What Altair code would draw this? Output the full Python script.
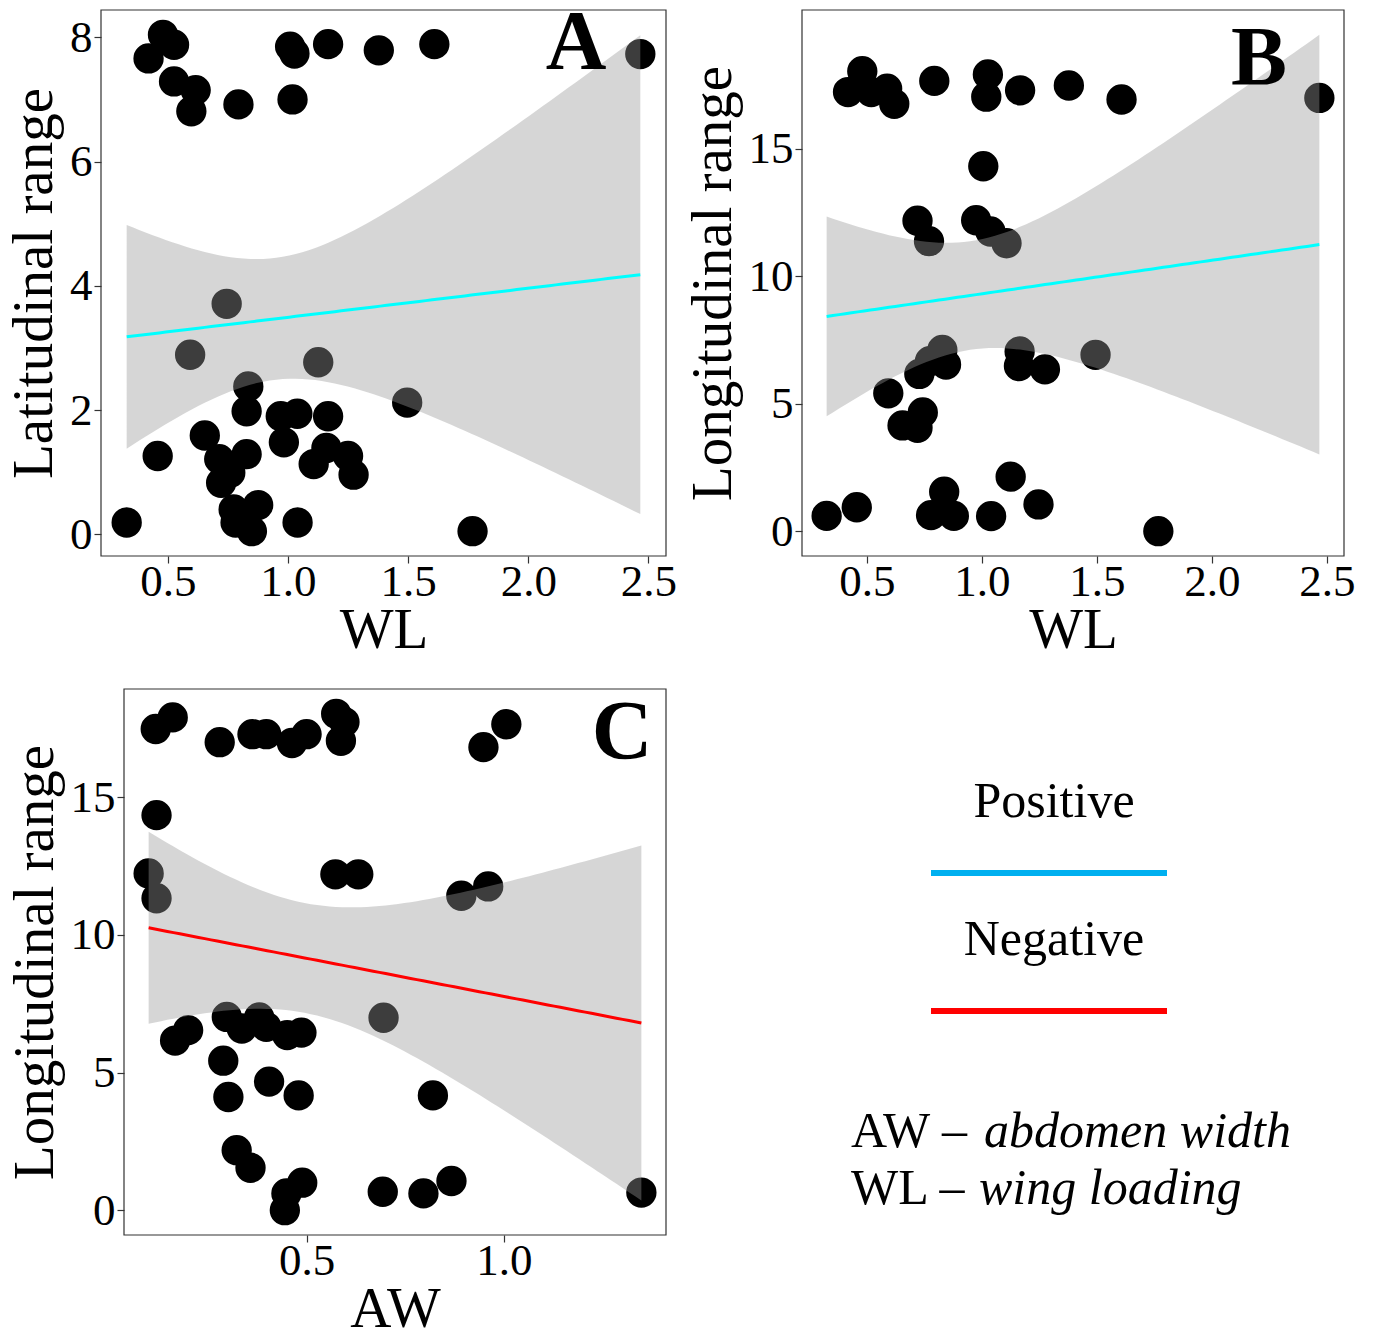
import numpy as np
import pandas as pd
import altair as alt

# ---------------- data ----------------
# Panel A: wing loading (WL) vs latitudinal range
a_wl = [0.48, 0.526, 0.42, 0.526, 0.616, 0.598, 0.794, 1.009, 1.027, 1.167, 1.378, 1.609, 1.019, 2.466,
        0.745, 0.593, 1.126, 0.835, 1.496, 0.828, 0.97, 1.039, 1.167, 0.654, 0.983, 1.16, 1.25, 1.107,
        1.273, 0.458, 0.828, 0.714, 0.76, 0.722, 0.876, 0.774, 0.782, 0.85, 0.329, 1.04, 1.768]
a_lat = [8.04, 7.88, 7.66, 7.29, 7.15, 6.81, 6.92, 7.85, 7.74, 7.89, 7.79, 7.89, 7.0, 7.73,
         3.71, 2.89, 2.77, 2.38, 2.12, 1.98, 1.90, 1.94, 1.90, 1.59, 1.48, 1.39, 1.26, 1.13,
         0.96, 1.26, 1.29, 1.21, 0.99, 0.83, 0.47, 0.40, 0.19, 0.05, 0.19, 0.19, 0.05]

# Panel B: wing loading (WL) vs longitudinal range
b_wl = [0.48, 0.418, 0.519, 0.588, 0.619, 0.793, 1.026, 1.019, 1.166, 1.378, 1.607, 2.467, 1.006,
        0.72, 0.77, 0.975, 1.037, 1.107, 0.828, 0.844, 0.728, 0.774, 1.164, 1.161, 1.274, 1.494,
        0.593, 0.743, 0.655, 0.72, 0.836, 1.125, 0.325, 0.456, 0.779, 0.878, 1.04, 1.246, 1.767]
b_lon = [18.05, 17.23, 17.23, 17.36, 16.77, 17.67, 17.92, 17.05, 17.30, 17.49, 16.94, 17.0, 14.32,
         12.18, 11.38, 12.2, 11.76, 11.3, 7.11, 6.54, 6.17, 6.67, 7.05, 6.48, 6.35, 6.92,
         5.41, 4.66, 4.15, 4.06, 1.55, 2.14, 0.60, 0.94, 0.63, 0.60, 0.59, 1.05, 0.0]

# Panel C: abdomen width (AW) vs longitudinal range
c_aw = [0.161, 0.118, 0.28, 0.363, 0.398, 0.463, 0.5, 0.575, 0.596, 0.587, 1.006, 0.948, 0.12,
        0.1, 0.12, 0.573, 0.631, 0.892, 0.96,
        0.2, 0.167, 0.298, 0.336, 0.38, 0.398, 0.451, 0.487, 0.695, 0.289, 0.405, 0.302, 0.48,
        0.82, 0.323, 0.358, 0.489, 0.449, 0.445, 0.693, 0.796, 0.867, 1.348]
c_lon = [17.9, 17.48, 17.0, 17.29, 17.29, 16.97, 17.29, 18.03, 17.73, 17.05, 17.65, 16.82, 14.35,
         12.23, 11.33, 12.2, 12.2, 11.42, 11.76,
         6.54, 6.16, 7.02, 6.6, 7.0, 6.66, 6.36, 6.45, 6.99, 5.43, 4.67, 4.11, 4.17,
         4.17, 2.18, 1.54, 1.0, 0.61, 0.0, 0.67, 0.61, 1.06, 0.64]

a_xticks = [0.5, 1.0, 1.5, 2.0, 2.5]
a_yticks = [0, 2, 4, 6, 8]
b_yticks = [0, 5, 10, 15]
c_xticks = [0.5, 1.0]
legend_labels = ["Positive", "Negative"]
legend_colors = ["#00B0F0", "#FF0000"]
note_abbr = ["AW \u2013 ", "WL \u2013 "]
note_text = ["abdomen width", "wing loading"]

FONT = "Liberation Serif"
FRAME = "#333333"


def lm_band(x, y, n=80, t=2.02):
    x = np.asarray(x, float)
    y = np.asarray(y, float)
    b1, b0 = np.polyfit(x, y, 1)
    res = y - (b0 + b1 * x)
    k = len(x)
    s = np.sqrt((res ** 2).sum() / (k - 2))
    xm = x.mean()
    sxx = ((x - xm) ** 2).sum()
    g = np.linspace(x.min(), x.max(), n)
    f = b0 + b1 * g
    se = s * np.sqrt(1.0 / k + (g - xm) ** 2 / sxx)
    return pd.DataFrame({"x": g, "fit": f, "lo": f - t * se, "hi": f + t * se})


def panel(px, py, xname, yname, xticks, yticks, line_color, letter, lx, ly, w, h, shift=0):
    """shift: blank gutter (px) left of the plotted frame inside the cell."""
    pts = pd.DataFrame({"x": px, "y": py})
    band = lm_band(px, py)
    xlo, xhi = min(px), max(px)
    xpad = 0.05 * (xhi - xlo)
    ylo = min(min(py), band["lo"].min())
    yhi = max(max(py), band["hi"].max())
    ypad = 0.05 * (yhi - ylo)
    xs = alt.Scale(domain=[xlo - xpad, xhi + xpad], nice=False, zero=False, range=[shift, w])
    ys = alt.Scale(domain=[ylo - ypad, yhi + ypad], nice=False, zero=False)
    xax = alt.Axis(values=xticks, format=".1f", title=xname)
    if shift:
        yax = alt.Axis(values=yticks, format="d", title=yname, offset=-shift)
    else:
        yax = alt.Axis(values=yticks, format="d", title=yname)

    points = alt.Chart(pts).mark_circle(size=920, color="black", opacity=1, clip=True).encode(
        x=alt.X("x:Q", scale=xs, axis=xax),
        y=alt.Y("y:Q", scale=ys, axis=yax),
    )
    ribbon = alt.Chart(band).mark_area(color="#999999", opacity=0.4, clip=True).encode(
        x="x:Q", y="lo:Q", y2="hi:Q"
    )
    line = alt.Chart(band).mark_line(color=line_color, strokeWidth=3, clip=True).encode(
        x="x:Q", y="fit:Q"
    )
    txt = alt.Chart(pd.DataFrame({"t": [letter]})).mark_text(
        font=FONT, fontSize=84, fontWeight="bold", color="black", align="center",
        baseline="alphabetic", clip=True
    ).encode(text="t:N", x=alt.value(shift + lx), y=alt.value(ly))
    frame = alt.Chart(pd.DataFrame({"k": [0]})).mark_rect(
        filled=False, stroke=FRAME, strokeWidth=1.2
    ).encode(x=alt.value(shift), x2=alt.value(w), y=alt.value(0), y2=alt.value(h))
    return alt.layer(points, ribbon, line, txt, frame).properties(
        width=w, height=h, view=alt.ViewBackground(stroke="transparent")
    )


A = panel(a_wl, a_lat, "WL", "Latitudinal range", a_xticks, a_yticks, "#00FFFF", "A", 475, 59, 565, 546)
B = panel(b_wl, b_lon, "WL", "Longitudinal range", a_xticks, b_yticks, "#00FFFF", "B", 457, 75, 542, 546)
C = panel(c_aw, c_lon, "AW", "Longitudinal range", c_xticks, b_yticks, "#FF0000", "C", 498, 70, 565, 546,
          shift=23)

# ---------------- legend panel (its origin is aligned with panel B's) ----------------
one = pd.DataFrame({"k": [0]})
leg_layers = []
for i, (lab, col) in enumerate(zip(legend_labels, legend_colors)):
    base_y = 128 + i * 138
    leg_layers.append(
        alt.Chart(pd.DataFrame({"t": [lab]})).mark_text(
            font=FONT, fontSize=50, color="black", align="center", baseline="alphabetic"
        ).encode(text="t:N", x=alt.value(252), y=alt.value(base_y))
    )
    leg_layers.append(
        alt.Chart(one).mark_rule(color=col, strokeWidth=6).encode(
            x=alt.value(129), x2=alt.value(365), y=alt.value(base_y + 56)
        )
    )
abbr_width = [133, 128]
for i, (ab, tx) in enumerate(zip(note_abbr, note_text)):
    base_y = 458 + i * 57
    leg_layers.append(
        alt.Chart(pd.DataFrame({"t": [ab]})).mark_text(
            font=FONT, fontSize=50, color="black", align="left", baseline="alphabetic"
        ).encode(text="t:N", x=alt.value(49), y=alt.value(base_y))
    )
    leg_layers.append(
        alt.Chart(pd.DataFrame({"t": [tx]})).mark_text(
            font=FONT, fontSize=50, fontStyle="italic", color="black", align="left", baseline="alphabetic"
        ).encode(text="t:N", x=alt.value(49 + abbr_width[i]), y=alt.value(base_y))
    )
legend = alt.layer(*leg_layers).properties(
    width=540, height=546, view=alt.ViewBackground(stroke="transparent")
)

chart = alt.concat(
    A, B, C, legend, columns=2, spacing={"row": 28, "column": 5}
).properties(
    padding={"left": 5, "top": 8, "right": 0, "bottom": 0}, background="white"
).configure_axis(
    labelFont=FONT, labelFontSize=45, labelColor="black",
    titleFont=FONT, titleFontSize=57, titleFontWeight="normal", titleColor="black",
    tickColor=FRAME, tickSize=7, tickWidth=1.2, domain=False, grid=False,
).configure_axisX(labelPadding=-4, titlePadding=-2).configure_axisY(labelPadding=2, titlePadding=6)

chart.save("out.html", embed_options={"renderer": "svg", "actions": False})
